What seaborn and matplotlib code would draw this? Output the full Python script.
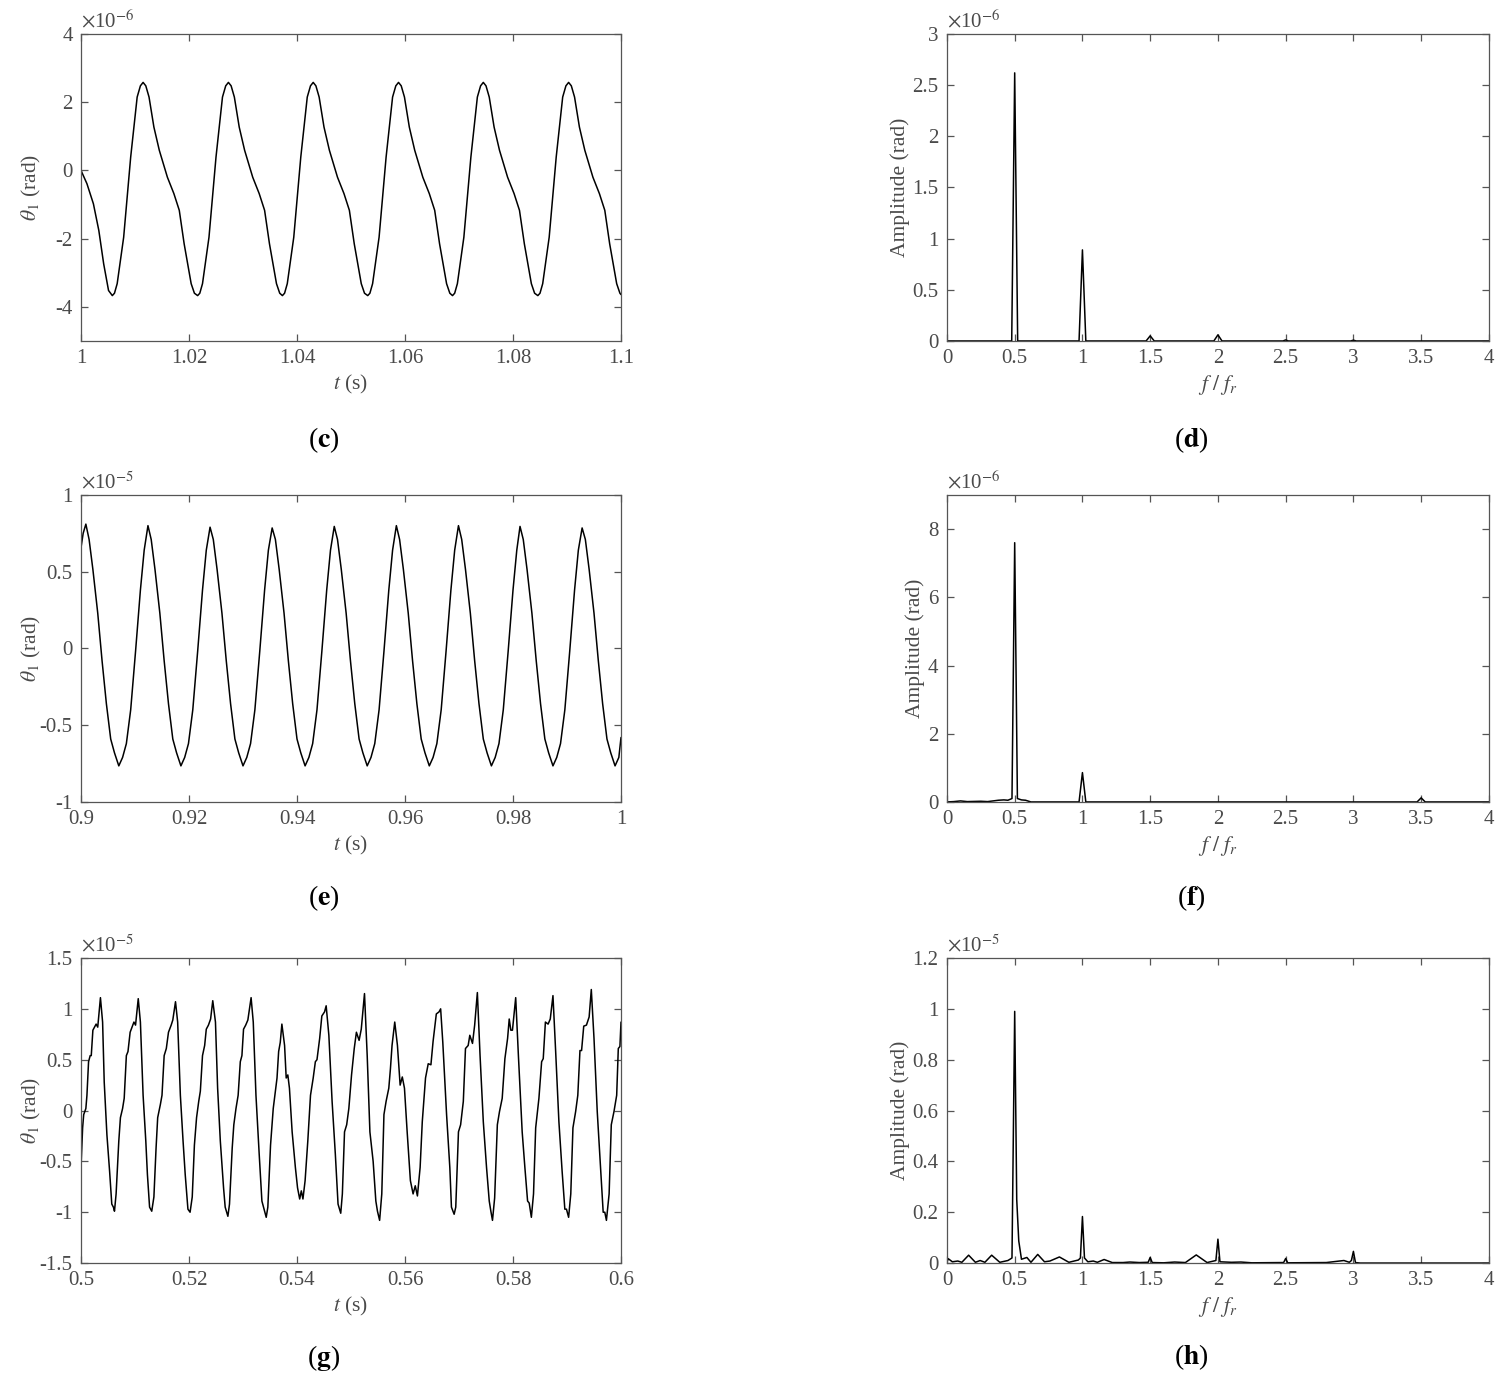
import numpy as np
import seaborn as sns
import matplotlib.pyplot as plt
from matplotlib.ticker import FuncFormatter

# ---------------- data ----------------
# (c) time response, theta_1 in units of 1e-6 rad
t_c = [1.0000, 1.0011, 1.0023, 1.0033, 1.0042, 1.0051,
       1.0058, 1.0062, 1.0067, 1.0079, 1.0092, 1.0104, 1.0110, 1.0115, 1.0120, 1.0126, 1.0135, 1.0145, 1.0160, 1.0172, 1.0182, 1.0191, 1.0204, 1.0210,
       1.0216, 1.0220, 1.0225, 1.0237, 1.0250, 1.0262, 1.0268, 1.0273, 1.0278, 1.0284, 1.0293, 1.0303, 1.0318, 1.0330, 1.0340, 1.0349, 1.0362, 1.0368,
       1.0373, 1.0377, 1.0382, 1.0394, 1.0407, 1.0419, 1.0425, 1.0430, 1.0435, 1.0441, 1.0450, 1.0460, 1.0475, 1.0487, 1.0497, 1.0506, 1.0519, 1.0525,
       1.0531, 1.0535, 1.0540, 1.0552, 1.0565, 1.0577, 1.0583, 1.0588, 1.0593, 1.0599, 1.0608, 1.0618, 1.0633, 1.0645, 1.0655, 1.0664, 1.0677, 1.0683,
       1.0688, 1.0692, 1.0697, 1.0709, 1.0722, 1.0734, 1.0740, 1.0745, 1.0750, 1.0756, 1.0765, 1.0775, 1.0790, 1.0802, 1.0812, 1.0821, 1.0834, 1.0840,
       1.0846, 1.0850, 1.0855, 1.0867, 1.0880, 1.0892, 1.0898, 1.0903, 1.0908, 1.0914, 1.0923, 1.0933, 1.0948, 1.0960, 1.0970, 1.0979, 1.0992, 1.0998,
       1.1000]
theta_c = [0.0, -0.39, -0.98, -1.76, -2.74, -3.52,
           -3.67, -3.6, -3.32, -1.96, 0.39, 2.15, 2.48, 2.58, 2.48, 2.15, 1.27, 0.59, -0.2, -0.68, -1.17, -2.15, -3.32, -3.6,
           -3.67, -3.6, -3.32, -1.96, 0.39, 2.15, 2.48, 2.58, 2.48, 2.15, 1.27, 0.59, -0.2, -0.68, -1.17, -2.15, -3.32, -3.6,
           -3.67, -3.6, -3.32, -1.96, 0.39, 2.15, 2.48, 2.58, 2.48, 2.15, 1.27, 0.59, -0.2, -0.68, -1.17, -2.15, -3.32, -3.6,
           -3.67, -3.6, -3.32, -1.96, 0.39, 2.15, 2.48, 2.58, 2.48, 2.15, 1.27, 0.59, -0.2, -0.68, -1.17, -2.15, -3.32, -3.6,
           -3.67, -3.6, -3.32, -1.96, 0.39, 2.15, 2.48, 2.58, 2.48, 2.15, 1.27, 0.59, -0.2, -0.68, -1.17, -2.15, -3.32, -3.6,
           -3.67, -3.6, -3.32, -1.96, 0.39, 2.15, 2.48, 2.58, 2.48, 2.15, 1.27, 0.59, -0.2, -0.68, -1.17, -2.15, -3.32, -3.6,
           -3.64]

# (d) spectrum, amplitude in units of 1e-6 rad
freq_d = [0, 0.478, 0.5, 0.522, 0.975, 1.0, 1.025, 1.47, 1.5, 1.53, 1.97, 2.0, 2.03,
          2.48, 2.5, 2.52, 2.98, 3.0, 3.02, 4.0]
amp_d = [0, 0, 2.62, 0, 0, 0.89, 0, 0, 0.05, 0, 0, 0.06, 0,
         0, 0.01, 0, 0, 0.008, 0, 0]

# (e) time response, units of 1e-5 rad
t_e = [0.9000, 0.9004,
       0.9009, 0.9015, 0.9022, 0.9031, 0.9039, 0.9047, 0.9055, 0.9062, 0.9070, 0.9077, 0.9084, 0.9092, 0.9101, 0.9110, 0.9117,
       0.9124, 0.9130, 0.9137, 0.9146, 0.9154, 0.9162, 0.9170, 0.9177, 0.9185, 0.9192, 0.9199, 0.9207, 0.9216, 0.9225, 0.9232,
       0.9239, 0.9245, 0.9252, 0.9261, 0.9269, 0.9277, 0.9285, 0.9292, 0.9300, 0.9307, 0.9314, 0.9322, 0.9331, 0.9340, 0.9347,
       0.9354, 0.9360, 0.9367, 0.9376, 0.9384, 0.9392, 0.9400, 0.9407, 0.9415, 0.9422, 0.9429, 0.9437, 0.9446, 0.9455, 0.9462,
       0.9469, 0.9475, 0.9482, 0.9491, 0.9499, 0.9507, 0.9515, 0.9522, 0.9530, 0.9537, 0.9544, 0.9552, 0.9561, 0.9570, 0.9577,
       0.9584, 0.9590, 0.9597, 0.9606, 0.9614, 0.9622, 0.9630, 0.9637, 0.9645, 0.9652, 0.9659, 0.9667, 0.9676, 0.9685, 0.9692,
       0.9699, 0.9705, 0.9712, 0.9721, 0.9729, 0.9737, 0.9745, 0.9752, 0.9760, 0.9767, 0.9774, 0.9782, 0.9791, 0.9800, 0.9807,
       0.9813, 0.9819, 0.9826, 0.9835, 0.9843, 0.9851, 0.9859, 0.9866, 0.9874, 0.9881, 0.9888, 0.9896, 0.9905, 0.9914, 0.9921,
       0.9928, 0.9934, 0.9941, 0.9950, 0.9958, 0.9966, 0.9974, 0.9981, 0.9989, 0.9996, 1.0000]
theta_e = [0.656, 0.75,
           0.81, 0.71, 0.515, 0.23, -0.08, -0.36, -0.59, -0.68, -0.765, -0.71, -0.62, -0.40, -0.02, 0.38, 0.64,
           0.80, 0.71, 0.515, 0.23, -0.08, -0.36, -0.59, -0.68, -0.765, -0.71, -0.62, -0.40, -0.02, 0.38, 0.64,
           0.79, 0.71, 0.515, 0.23, -0.08, -0.36, -0.59, -0.68, -0.765, -0.71, -0.62, -0.40, -0.02, 0.38, 0.64,
           0.785, 0.71, 0.515, 0.23, -0.08, -0.36, -0.59, -0.68, -0.765, -0.71, -0.62, -0.40, -0.02, 0.38, 0.64,
           0.795, 0.71, 0.515, 0.23, -0.08, -0.36, -0.59, -0.68, -0.765, -0.71, -0.62, -0.40, -0.02, 0.38, 0.64,
           0.80, 0.71, 0.515, 0.23, -0.08, -0.36, -0.59, -0.68, -0.765, -0.71, -0.62, -0.40, -0.02, 0.38, 0.64,
           0.80, 0.71, 0.515, 0.23, -0.08, -0.36, -0.59, -0.68, -0.765, -0.71, -0.62, -0.40, -0.02, 0.38, 0.64,
           0.795, 0.71, 0.515, 0.23, -0.08, -0.36, -0.59, -0.68, -0.765, -0.71, -0.62, -0.40, -0.02, 0.38, 0.64,
           0.785, 0.71, 0.515, 0.23, -0.08, -0.36, -0.59, -0.68, -0.765, -0.71, -0.58]

# (f) spectrum, units of 1e-6 rad
freq_f = [0, 0.05, 0.1, 0.15, 0.25, 0.3, 0.38, 0.42, 0.45, 0.48, 0.5, 0.52, 0.55, 0.58, 0.62,
          0.975, 1.0, 1.025, 3.47, 3.5, 3.53, 4.0]
amp_f = [0, 0.01, 0.03, 0.01, 0.02, 0.01, 0.05, 0.06, 0.05, 0.1, 7.6, 0.1, 0.06, 0.05, 0,
         0, 0.86, 0, 0, 0.12, 0, 0]

# (g) time response, units of 1e-5 rad
t_g = [0.5000, 0.5003, 0.5005, 0.5009, 0.5011, 0.5014, 0.5017, 0.5019, 0.5022, 0.5025, 0.5028, 0.5031, 0.5036, 0.5040,
       0.5043, 0.5048, 0.5053, 0.5057, 0.5060, 0.5062, 0.5065, 0.5070, 0.5073, 0.5077, 0.5080, 0.5084, 0.5087, 0.5091,
       0.5098, 0.5101, 0.5106, 0.5110, 0.5115, 0.5120, 0.5123, 0.5127, 0.5131, 0.5135, 0.5139, 0.5142, 0.5147, 0.5150,
       0.5154, 0.5158, 0.5162, 0.5167, 0.5170, 0.5175, 0.5179, 0.5184, 0.5189, 0.5193, 0.5198, 0.5202, 0.5206, 0.5210,
       0.5214, 0.5218, 0.5221, 0.5225, 0.5229, 0.5232, 0.5236, 0.5240, 0.5244, 0.5249, 0.5253, 0.5258, 0.5264, 0.5267,
       0.5272, 0.5275, 0.5280, 0.5283, 0.5287, 0.5291, 0.5295, 0.5298, 0.5301, 0.5305, 0.5309, 0.5315, 0.5319, 0.5324,
       0.5330, 0.5335, 0.5338, 0.5343, 0.5346, 0.5351, 0.5356, 0.5360, 0.5363, 0.5366, 0.5369, 0.5372, 0.5377, 0.5380,
       0.5383, 0.5386, 0.5391, 0.5397, 0.5401, 0.5405, 0.5408, 0.5411, 0.5415, 0.5420, 0.5425, 0.5430, 0.5434, 0.5437,
       0.5442, 0.5446, 0.5451, 0.5454, 0.5459, 0.5465, 0.5471, 0.5476, 0.5481, 0.5484, 0.5488, 0.5492, 0.5496, 0.5501,
       0.5506, 0.5510, 0.5515, 0.5519, 0.5525, 0.5530, 0.5535, 0.5541, 0.5546, 0.5549, 0.5553, 0.5557, 0.5561, 0.5565,
       0.5570, 0.5573, 0.5576, 0.5581, 0.5586, 0.5591, 0.5595, 0.5599, 0.5604, 0.5610, 0.5615, 0.5619, 0.5623, 0.5628,
       0.5632, 0.5638, 0.5643, 0.5648, 0.5652, 0.5658, 0.5663, 0.5666, 0.5670, 0.5677, 0.5683, 0.5686, 0.5691, 0.5694,
       0.5699, 0.5703, 0.5708, 0.5712, 0.5717, 0.5720, 0.5725, 0.5729, 0.5734, 0.5739, 0.5745, 0.5751, 0.5756, 0.5759,
       0.5762, 0.5766, 0.5771, 0.5775, 0.5780, 0.5785, 0.5790, 0.5793, 0.5796, 0.5799, 0.5805, 0.5810, 0.5817, 0.5822,
       0.5827, 0.5830, 0.5834, 0.5838, 0.5842, 0.5848, 0.5853, 0.5856, 0.5860, 0.5865, 0.5869, 0.5874, 0.5879, 0.5885,
       0.5891, 0.5896, 0.5899, 0.5903, 0.5907, 0.5911, 0.5916, 0.5920, 0.5924, 0.5927, 0.5931, 0.5936, 0.5941, 0.5945,
       0.5950, 0.5956, 0.5962, 0.5967, 0.5970, 0.5973, 0.5978, 0.5982, 0.5987, 0.5992, 0.5995, 0.5998, 0.6000]
theta_g = [-0.56, -0.17, -0.04, 0.02, 0.15, 0.48, 0.54, 0.54, 0.79, 0.82, 0.85, 0.82, 1.11, 0.87,
           0.28, -0.24, -0.60, -0.92, -0.95, -0.99, -0.82, -0.30, -0.07, 0.02, 0.12, 0.54, 0.58, 0.77,
           0.87, 0.84, 1.10, 0.87, 0.15, -0.30, -0.63, -0.95, -0.99, -0.85, -0.37, -0.07, 0.06, 0.15,
           0.54, 0.61, 0.77, 0.84, 0.89, 1.07, 0.87, 0.15, -0.30, -0.63, -0.97, -1.00, -0.85, -0.34,
           -0.07, 0.09, 0.19, 0.54, 0.64, 0.80, 0.84, 0.90, 1.08, 0.87, 0.22, -0.30, -0.76, -0.95,
           -1.04, -0.92, -0.37, -0.14, 0.02, 0.15, 0.48, 0.54, 0.80, 0.84, 0.89, 1.11, 0.87, 0.15,
           -0.43, -0.89, -0.95, -1.05, -0.95, -0.34, 0.02, 0.19, 0.32, 0.58, 0.67, 0.85, 0.64, 0.32,
           0.35, 0.22, -0.21, -0.56, -0.76, -0.87, -0.79, -0.87, -0.69, -0.30, 0.15, 0.32, 0.48, 0.50,
           0.71, 0.93, 0.97, 1.03, 0.74, 0.09, -0.43, -0.92, -1.01, -0.82, -0.21, -0.14, 0.02, 0.35,
           0.61, 0.77, 0.69, 0.80, 1.15, 0.54, -0.21, -0.50, -0.89, -0.99, -1.08, -0.82, -0.04, 0.09,
           0.22, 0.41, 0.64, 0.87, 0.64, 0.25, 0.33, 0.22, -0.21, -0.69, -0.82, -0.74, -0.84, -0.56,
           -0.11, 0.32, 0.46, 0.45, 0.68, 0.95, 0.97, 1.00, 0.67, -0.04, -0.56, -0.95, -1.02, -0.95,
           -0.21, -0.14, 0.09, 0.61, 0.64, 0.74, 0.66, 0.84, 1.16, 0.54, -0.11, -0.56, -0.89, -0.99,
           -1.08, -0.86, -0.14, -0.01, 0.12, 0.51, 0.71, 0.90, 0.79, 0.79, 1.11, 0.54, -0.21, -0.56,
           -0.89, -0.91, -1.05, -0.82, -0.17, 0.12, 0.48, 0.51, 0.87, 0.85, 0.90, 1.13, 0.58, -0.11,
           -0.60, -0.97, -0.97, -1.05, -0.82, -0.17, -0.01, 0.15, 0.59, 0.59, 0.83, 0.84, 0.92, 1.19,
           0.71, -0.01, -0.56, -1.00, -1.00, -1.08, -0.82, -0.14, -0.01, 0.15, 0.61, 0.63, 0.87]

# (h) spectrum, units of 1e-5 rad
freq_h = [0, 0.01, 0.04, 0.08, 0.11, 0.16, 0.21, 0.245, 0.28, 0.33, 0.39, 0.45, 0.48, 0.5, 0.515,
          0.53, 0.55, 0.59, 0.62, 0.67, 0.72, 0.76, 0.83, 0.9, 0.97, 0.985, 1.0, 1.015, 1.04, 1.08,
          1.11, 1.16, 1.22, 1.3, 1.35, 1.42, 1.485, 1.5, 1.515, 1.6, 1.68, 1.76, 1.84, 1.92, 1.985,
          2.0, 2.015, 2.1, 2.17, 2.25, 2.485, 2.5, 2.515, 2.8, 2.93, 2.97, 2.985, 3.0, 3.015, 3.05, 4.0]
amp_h = [0.005, 0.017, 0.005, 0.008, 0.003, 0.031, 0.003, 0.01, 0.003, 0.031, 0.003, 0.01, 0.02, 0.99, 0.25,
         0.087, 0.015, 0.022, 0.003, 0.034, 0.005, 0.008, 0.024, 0.003, 0.012, 0.02, 0.183, 0.02, 0.005, 0.008,
         0.003, 0.014, 0.002, 0.002, 0.004, 0.002, 0.003, 0.022, 0.002, 0.001, 0.004, 0.002, 0.032, 0.002, 0.01,
         0.094, 0.005, 0.003, 0.004, 0.001, 0.002, 0.018, 0.001, 0.002, 0.01, 0.003, 0.01, 0.046, 0.002, 0, 0]

# ---------------- style ----------------
sns.set_style('ticks')
plt.rcParams['font.family'] = ['Liberation Serif', 'DejaVu Serif']
plt.rcParams['mathtext.fontset'] = 'stix'
plt.rcParams['axes.unicode_minus'] = False

GRAY = '#4a4a4a'
fig = plt.figure(figsize=(15, 13.81), dpi=100)

left_x, left_w = 0.054, 0.36
right_x, right_w = 0.6313, 0.3613
rows = [(0.7531, 0.2223), (0.4193, 0.2223), (0.0854, 0.2209)]


def style_axes(ax, xlim, xticks, ylim, yticks, exp, xlabel, ylabel, ylab_x):
    scale = 10.0 ** exp
    ax.set_xlim(*xlim)
    ax.set_ylim(ylim[0] * scale, ylim[1] * scale)
    ax.set_xticks(xticks)
    ax.set_yticks([v * scale for v in yticks])
    ax.xaxis.set_major_formatter(FuncFormatter(lambda v, p: f'{round(v, 6):g}'))
    ax.yaxis.set_major_formatter(FuncFormatter(lambda v, p: f'{round(v / scale, 6):g}'))
    ax.tick_params(direction='in', top=True, right=True, length=5, width=0.9,
                   labelsize=15, colors='#555555', labelcolor=GRAY, pad=6)
    for sp in ax.spines.values():
        sp.set_color('#555555')
        sp.set_linewidth(0.9)
    ax.set_xlabel(xlabel, fontsize=15.5, color=GRAY)
    ax.set_ylabel(ylabel, fontsize=15.5, color=GRAY)
    ax.xaxis.set_label_coords(0.5, -0.105)
    ax.yaxis.set_label_coords(ylab_x, 0.5)
    ax.text(0.0, 1.004, r'$\times$10$^{%d}$' % exp, transform=ax.transAxes,
            ha='left', va='bottom', fontsize=15, color=GRAY)


def draw(rect, x, y, exp):
    ax = fig.add_axes(rect)
    sns.lineplot(x=x, y=np.array(y) * 10.0 ** exp, ax=ax, color='black',
                 linewidth=1.1, estimator=None, sort=False)
    return ax


theta_lab = r'$\theta_1$ (rad)'
amp_lab = 'Amplitude (rad)'
t_lab = r'$t$ (s)'
f_lab = r'$f\ /\ f_r$'
f_ticks = [0, 0.5, 1, 1.5, 2, 2.5, 3, 3.5, 4]

# (c)
b, h = rows[0]
ax = draw([left_x, b, left_w, h], t_c, theta_c, -6)
style_axes(ax, (1.0, 1.1), np.arange(1.0, 1.1001, 0.02), (-5, 4), [-4, -2, 0, 2, 4], -6,
           t_lab, theta_lab, -0.07)
# (d)
ax = draw([right_x, b, right_w, h], freq_d, amp_d, -6)
style_axes(ax, (0, 4), f_ticks, (0, 3), [0, 0.5, 1, 1.5, 2, 2.5, 3], -6,
           f_lab, amp_lab, -0.068)

# (e)
b, h = rows[1]
ax = draw([left_x, b, left_w, h], t_e, theta_e, -5)
style_axes(ax, (0.9, 1.0), np.arange(0.9, 1.0001, 0.02), (-1, 1), [-1, -0.5, 0, 0.5, 1], -5,
           t_lab, theta_lab, -0.07)
# (f)
ax = draw([right_x, b, right_w, h], freq_f, amp_f, -6)
style_axes(ax, (0, 4), f_ticks, (0, 9), [0, 2, 4, 6, 8], -6,
           f_lab, amp_lab, -0.04)

# (g)
b, h = rows[2]
ax = draw([left_x, b, left_w, h], t_g, theta_g, -5)
style_axes(ax, (0.5, 0.6), np.arange(0.5, 0.6001, 0.02), (-1.5, 1.5), [-1.5, -1, -0.5, 0, 0.5, 1, 1.5], -5,
           t_lab, theta_lab, -0.07)
# (h)
ax = draw([right_x, b, right_w, h], freq_h, amp_h, -5)
style_axes(ax, (0, 4), f_ticks, (0, 1.2), [0, 0.2, 0.4, 0.6, 0.8, 1, 1.2], -5,
           f_lab, amp_lab, -0.068)

# panel letters
for (px, py, letter) in [(0.216, 0.681, 'c'), (0.794, 0.681, 'd'),
                         (0.216, 0.350, 'e'), (0.794, 0.350, 'f'),
                         (0.216, 0.017, 'g'), (0.794, 0.017, 'h')]:
    fig.text(px, py, r'($\mathbf{%s}$)' % letter, ha='center', va='center',
             fontsize=20, color='black')

fig.savefig('out.png', dpi=100, facecolor='white')
